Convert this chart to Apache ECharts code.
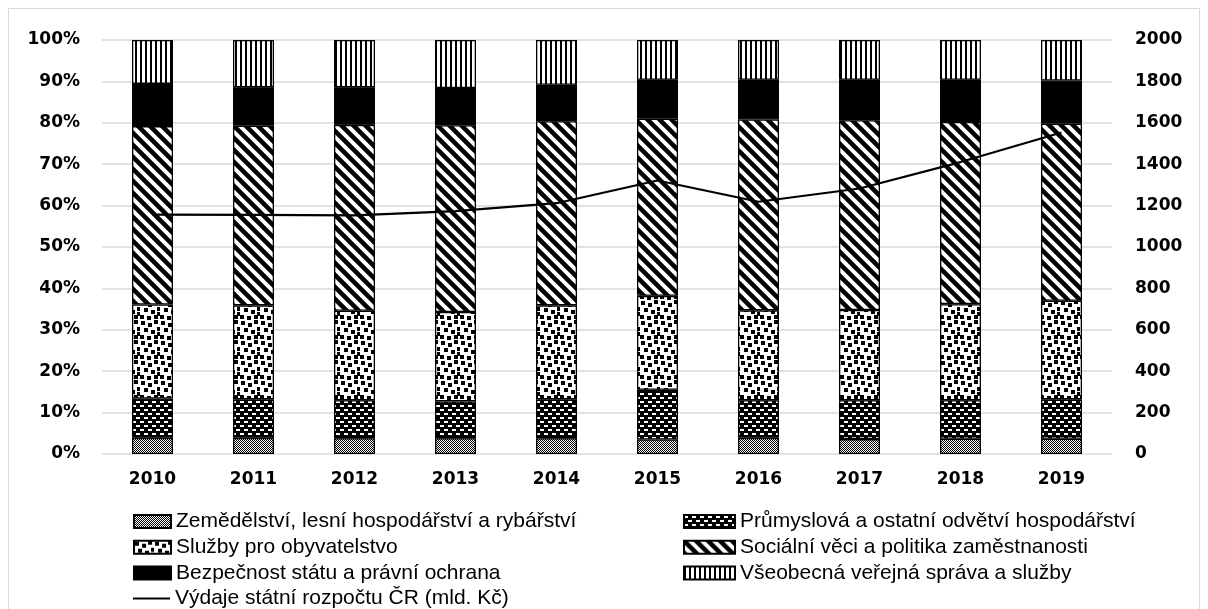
<!DOCTYPE html>
<html>
<head>
<meta charset="utf-8">
<script src="https://cdn.jsdelivr.net/npm/echarts@6/dist/echarts.min.js"></script>
<style>
html, body { margin: 0; padding: 0; background: #fff; }
#chart { width: 1208px; height: 609px; }
</style>
</head>
<body>
<div id="chart"></div>
<script>
// roky
var years = ['2010', '2011', '2012', '2013', '2014', '2015', '2016', '2017', '2018', '2019'];
// podíly výdajů (%)
var zemedelstvi = [3.9, 3.9, 3.8, 3.8, 3.8, 3.5, 3.9, 3.6, 3.7, 3.7];
var prumysl = [9.5, 9.3, 9.2, 8.9, 9.4, 12.0, 9.1, 9.4, 9.3, 9.5];
var sluzby = [22.7, 22.7, 21.6, 21.6, 22.7, 22.7, 21.7, 21.8, 23.2, 23.8];
var socialni = [43.1, 43.4, 44.9, 45.1, 44.5, 42.8, 46.1, 45.8, 44.0, 42.8];
var bezpecnost = [10.2, 9.3, 9.1, 9.0, 8.8, 9.4, 9.6, 9.8, 10.2, 10.4];
var vseobecna = [10.6, 11.4, 11.4, 11.6, 10.8, 9.6, 9.6, 9.6, 9.6, 9.8];
// výdaje státního rozpočtu (mld. Kč)
var vydaje = [1156.8, 1155.5, 1152.4, 1173.1, 1211.6, 1321.1, 1218.6, 1282.6, 1410.3, 1552.9];

var names = [
  'Zemědělství, lesní hospodářství a rybářství',
  'Průmyslová a ostatní odvětví hospodářství',
  'Služby pro obyvatelstvo',
  'Sociální věci a politika zaměstnanosti',
  'Bezpečnost státu a právní ochrana',
  'Všeobecná veřejná správa a služby',
  'Výdaje státní rozpočtu ČR (mld. Kč)'
];

// vzorky výplně
function pattern(w, h, draw) {
  var c = document.createElement('canvas');
  c.width = w;
  c.height = h;
  var ctx = c.getContext('2d');
  ctx.fillStyle = '#fff';
  ctx.fillRect(0, 0, w, h);
  ctx.fillStyle = '#000';
  ctx.strokeStyle = '#000';
  draw(ctx);
  return { image: c, repeat: 'repeat' };
}

var pCheck = pattern(2, 2, function (ctx) {
  ctx.fillRect(0, 0, 1, 1);
  ctx.fillRect(1, 1, 1, 1);
});
var pBrick = pattern(8, 8, function (ctx) {
  ctx.fillRect(0, 0, 8, 8);
  ctx.fillStyle = '#fff';
  ctx.fillRect(0, 1, 4, 2);
  ctx.fillRect(4, 5, 4, 2);
});
var pDots = pattern(20, 20, function (ctx) {
  var pts = [[1, 1], [8, 3], [14, 0], [4, 8], [11, 10], [17, 7], [0, 15], [7, 16], [14, 15], [17, 12]];
  pts.forEach(function (p) { ctx.fillRect(p[0], p[1], 4, 4); });
});
var pDiag = pattern(12, 12, function (ctx) {
  ctx.lineWidth = 4.5;
  [-12, 0, 12].forEach(function (o) {
    ctx.beginPath();
    ctx.moveTo(o - 2, -2);
    ctx.lineTo(o + 14, 14);
    ctx.stroke();
  });
});
var pVert = pattern(5, 4, function (ctx) {
  ctx.fillRect(0, 0, 2, 4);
});

var fills = [pCheck, pBrick, pDots, pDiag, '#000', pVert];
var values = [zemedelstvi, prumysl, sluzby, socialni, bezpecnost, vseobecna];

var series = values.map(function (v, i) {
  return {
    name: names[i],
    type: 'bar',
    stack: 'podil',
    barWidth: 41,
    data: v,
    itemStyle: { color: fills[i], borderColor: '#000', borderWidth: 1.3 }
  };
});
series.push({
  name: names[6],
  type: 'line',
  yAxisIndex: 1,
  data: vydaje,
  symbol: 'none',
  z: 5,
  lineStyle: { color: '#000', width: 2.2 },
  itemStyle: { color: '#000' }
});

var axisFont = { fontFamily: 'DejaVu Sans', fontWeight: 'bold', fontSize: 17, color: '#000' };
var legendText = { fontFamily: 'Liberation Sans', fontSize: 21, color: '#000', lineHeight: 21 };

var chart = echarts.init(document.getElementById('chart'));
chart.setOption({
  animation: false,
  backgroundColor: '#fff',
  graphic: [{
    type: 'rect',
    shape: { x: 8.5, y: 8.5, width: 1191, height: 620 },
    style: { fill: 'none', stroke: '#d9d9d9', lineWidth: 1 },
    silent: true
  }],
  grid: { left: 102, right: 96, top: 40, bottom: 155 },
  legend: [{
    orient: 'vertical',
    left: 128,
    top: 506,
    itemWidth: 37,
    itemHeight: 13,
    itemGap: 4.7,
    data: [
      { name: names[0], icon: 'rect' },
      { name: names[2], icon: 'rect' },
      { name: names[4], icon: 'rect' }
    ],
    textStyle: legendText
  }, {
    orient: 'vertical',
    left: 678,
    top: 506,
    itemWidth: 51,
    itemHeight: 13,
    itemGap: 4.7,
    data: [
      { name: names[1], icon: 'rect' },
      { name: names[3], icon: 'rect' },
      { name: names[5], icon: 'rect' }
    ],
    textStyle: legendText
  }, {
    left: 128,
    top: 583,
    itemWidth: 37,
    itemHeight: 2,
    data: [{ name: names[6], icon: 'rect' }],
    textStyle: legendText
  }],
  xAxis: {
    type: 'category',
    data: years,
    axisLine: { show: false },
    axisTick: { show: false },
    axisLabel: Object.assign({ margin: 17 }, axisFont)
  },
  yAxis: [{
    type: 'value',
    min: 0,
    max: 100,
    interval: 10,
    axisLine: { show: false },
    axisTick: { show: false },
    splitLine: { lineStyle: { color: '#d9d9d9', width: 1.5 } },
    axisLabel: Object.assign({ margin: 22, formatter: '{value}%' }, axisFont)
  }, {
    type: 'value',
    min: 0,
    max: 2000,
    interval: 200,
    axisLine: { show: false },
    axisTick: { show: false },
    splitLine: { show: false },
    axisLabel: Object.assign({ margin: 23, formatter: function (v) { return String(v); } }, axisFont)
  }],
  series: series
});
</script>
</body>
</html>
